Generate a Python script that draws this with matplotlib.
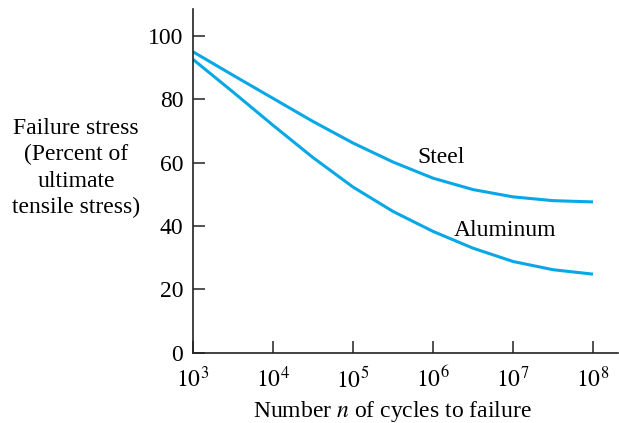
import matplotlib
matplotlib.use('Agg')
import matplotlib.pyplot as plt
import numpy as np

# Values (half-decade steps)
cycles = [1e3, 10**3.5, 1e4, 10**4.5, 1e5, 10**5.5, 1e6, 10**6.5, 1e7, 10**7.5, 1e8]
steel = [95.0, 87.6, 80.3, 73.0, 66.2, 60.2, 55.1, 51.5, 49.2, 48.0, 47.6]
aluminum = [92.6, 82.3, 71.8, 61.6, 52.3, 44.6, 38.3, 33.0, 28.8, 26.2, 24.8]

y_ticks = [0, 20, 40, 60, 80, 100]
x_ticks = [1e3, 1e4, 1e5, 1e6, 1e7, 1e8]
x_labels = ['$10^{3}$', '$10^{4}$', '$10^{5}$', '$10^{6}$', '$10^{7}$', '$10^{8}$']

LINE_COLOR = '#08a7e6'
FS = 17

plt.rcParams['font.family'] = ['Liberation Serif', 'DejaVu Serif']
plt.rcParams['mathtext.fontset'] = 'stix'

fig = plt.figure(figsize=(6.19, 4.23), dpi=100)
ax = fig.add_axes([193/619, 1 - 352.7/423, 425/619, 344/423])

ax.plot(cycles, steel, color=LINE_COLOR, lw=2.2, solid_capstyle='butt')
ax.plot(cycles, aluminum, color=LINE_COLOR, lw=2.2, solid_capstyle='butt')

ax.set_xscale('log')
ax.set_xlim(1e3, 10**8.3125)
ax.set_ylim(0, 108.6)
ax.set_xticks(x_ticks)
ax.set_xticklabels(x_labels)
ax.minorticks_off()
ax.set_yticks(y_ticks)

for side in ['top', 'right']:
    ax.spines[side].set_visible(False)
for side in ['left', 'bottom']:
    ax.spines[side].set_linewidth(1.2)
    ax.spines[side].set_color('#222222')

ax.tick_params(direction='in', length=8.6, width=1.1, colors='#222222',
               labelsize=FS, labelcolor='black')
ax.tick_params(axis='y', pad=7)
ax.tick_params(axis='x', pad=10)

ax.text(10**6.1, 61.5, 'Steel', fontsize=FS, ha='center', va='center')
ax.text(10**6.9, 38.7, 'Aluminum', fontsize=FS, ha='center', va='center')

ax.set_xlabel('Number $n$ of cycles to failure', fontsize=FS)
ax.xaxis.set_label_coords(0.47, -0.135)

fig.text(76/619, 1 - 168/423,
         'Failure stress\n(Percent of\nultimate\ntensile stress)',
         fontsize=FS, ha='center', va='center', linespacing=1.32)

fig.savefig('out.png', dpi=100)
